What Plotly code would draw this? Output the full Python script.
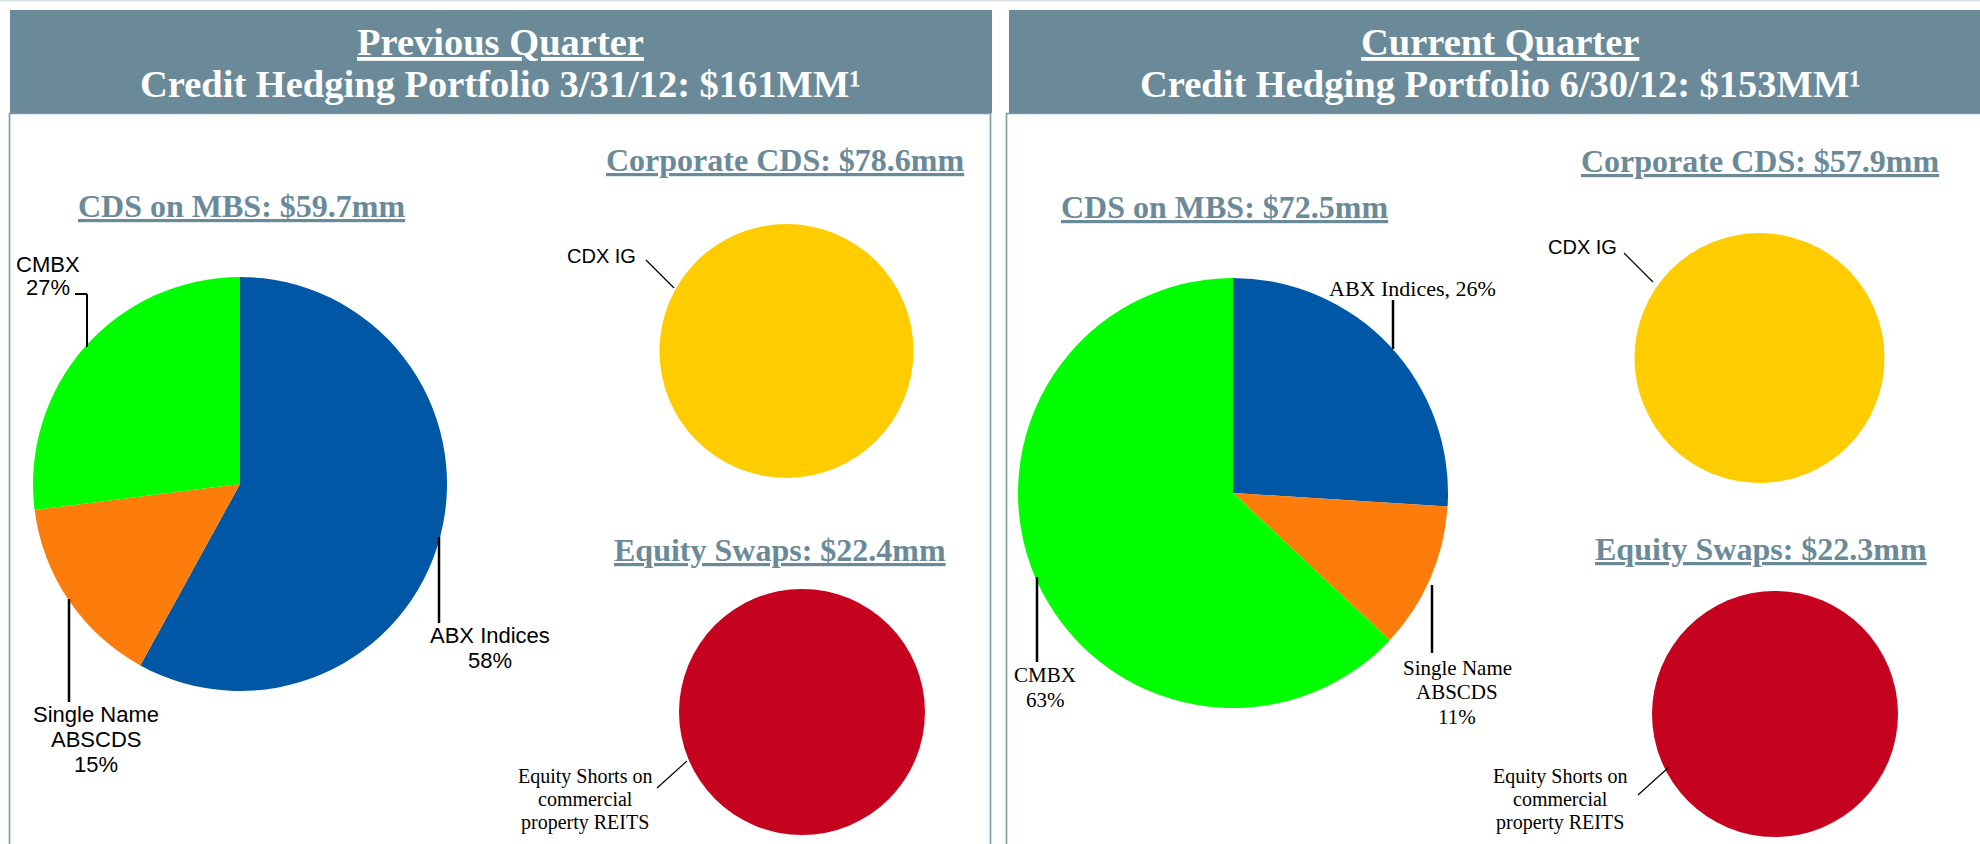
import plotly.graph_objects as go

W, H = 1980, 844

# ---------------- data ----------------
quarters = ["Previous Quarter", "Current Quarter"]
dates = ["3/31/12", "6/30/12"]
portfolio_totals = [161, 153]            # $MM

mbs_categories = ["ABX Indices", "Single Name ABSCDS", "CMBX"]
mbs_prev = [58, 15, 27]                  # % of CDS on MBS
mbs_curr = [26, 11, 63]
mbs_totals = [59.7, 72.5]                # $mm

corp_categories = ["CDX IG"]
corp_values = [78.6, 57.9]               # $mm

eq_categories = ["Equity Shorts on commercial property REITS"]
eq_values = [22.4, 22.3]                 # $mm

mbs_colors = ["#0057A6", "#FC7D0B", "#00FF00"]
corp_color = "#FFCC00"
eq_color = "#C5031F"

SLATE = "#6A8A99"
SERIF = "Liberation Serif, Times New Roman, serif"
SANS = "Liberation Sans, Arial, sans-serif"


def fx(x):
    return x / W


def fy(y):
    return 1 - y / H


def dom(cx, cy, r):
    return dict(x=[(cx - r) / W, (cx + r) / W], y=[1 - (cy + r) / H, 1 - (cy - r) / H])


fig = go.Figure()

# ---------------- pies ----------------
pie_geo = [
    [((240, 484), 207), ((786.5, 351), 127), ((802, 712), 123)],
    [((1233, 493), 215), ((1759.5, 358), 125), ((1775, 714), 123)],
]
mbs_vals = [mbs_prev, mbs_curr]

for q in range(2):
    (c1, r1), (c2, r2), (c3, r3) = pie_geo[q]
    fig.add_trace(go.Pie(
        labels=mbs_categories, values=mbs_vals[q], sort=False,
        direction="clockwise", rotation=0, textinfo="none", textposition="none",
        marker=dict(colors=mbs_colors, line=dict(width=0)),
        domain=dom(c1[0], c1[1], r1), showlegend=False, hoverinfo="label+percent",
    ))
    fig.add_trace(go.Pie(
        labels=corp_categories, values=[corp_values[q]], sort=False,
        textinfo="none", textposition="none",
        marker=dict(colors=[corp_color], line=dict(width=0)),
        domain=dom(c2[0], c2[1], r2), showlegend=False, hoverinfo="label+value",
    ))
    fig.add_trace(go.Pie(
        labels=eq_categories, values=[eq_values[q]], sort=False,
        textinfo="none", textposition="none",
        marker=dict(colors=[eq_color], line=dict(width=0)),
        domain=dom(c3[0], c3[1], r3), showlegend=False, hoverinfo="label+value",
    ))

shapes = []
annotations = []

# ---------------- frame ----------------
shapes.append(dict(type="rect", xref="paper", yref="paper", x0=0, x1=1, y0=fy(1.5), y1=1,
                   fillcolor="#D6DFE4", line=dict(width=0), layer="below"))
for (x0, x1) in [(9.5, 990.5), (1006.5, 1995)]:
    shapes.append(dict(type="rect", xref="paper", yref="paper", x0=fx(x0), x1=fx(x1),
                       y0=fy(860), y1=fy(113.5), line=dict(color="#7C99A7", width=1.6),
                       fillcolor="rgba(0,0,0,0)", layer="below"))
for (x0, x1) in [(10, 992), (1009, 1990)]:
    shapes.append(dict(type="rect", xref="paper", yref="paper", x0=fx(x0), x1=fx(x1),
                       y0=fy(113), y1=fy(10), fillcolor=SLATE, line=dict(width=0), layer="below"))


def text(t, x, baseline, size, family, color="black", anchor="center"):
    annotations.append(dict(
        text=t, x=fx(x), y=fy(baseline - 0.34 * size), xref="paper", yref="paper",
        xanchor=anchor, yanchor="middle", showarrow=False,
        font=dict(size=size, family=family, color=color),
    ))


def lines(lst, x, first_baseline, spacing, size, family):
    for i, t in enumerate(lst):
        text(t, x, first_baseline + i * spacing, size, family)


def seg(x0, y0, x1, y1, w):
    shapes.append(dict(type="line", xref="paper", yref="paper", x0=fx(x0), y0=fy(y0),
                       x1=fx(x1), y1=fy(y1), line=dict(color="black", width=w)))


# ---------------- headers ----------------
hdr_cx = [500, 1500]
for q in range(2):
    text(f"<b><u>{quarters[q]}</u></b>", hdr_cx[q], 55, 38.5, SERIF, "white")
    text(f"<b>Credit Hedging Portfolio {dates[q]}: ${portfolio_totals[q]}MM¹</b>",
         hdr_cx[q], 97, 38.5, SERIF, "white")

# ---------------- section titles ----------------
sub_pos = [
    [(241, 217), (785, 171), (780, 561)],
    [(1224, 218), (1760, 172), (1761, 560)],
]
for q in range(2):
    (a, b), (c, d), (e, f) = sub_pos[q]
    text(f"<b><u>CDS on MBS: ${mbs_totals[q]}mm</u></b>", a, b, 32, SERIF, SLATE)
    text(f"<b><u>Corporate CDS: ${corp_values[q]}mm</u></b>", c, d, 32, SERIF, SLATE)
    text(f"<b><u>Equity Swaps: ${eq_values[q]}mm</u></b>", e, f, 32, SERIF, SLATE)

# ---------------- slice labels : previous quarter ----------------
lines([mbs_categories[0], f"{mbs_prev[0]}%"], 490, 643, 25, 22, SANS)
lines(["Single Name", "ABSCDS", f"{mbs_prev[1]}%"], 96, 722, 25, 22, SANS)
lines([mbs_categories[2], f"{mbs_prev[2]}%"], 48, 272, 23, 22, SANS)
seg(439, 537, 439, 623, 2.5)
seg(69, 599, 69, 702, 2.5)
seg(75, 294, 87, 294, 2)
seg(87, 294, 87, 347, 2)

text(corp_categories[0], 601.5, 263, 20, SANS)
seg(646, 260, 674, 288, 1.2)
lines(["Equity Shorts on", "commercial", "property REITS"], 585, 783, 23, 20, SERIF)
seg(657, 788, 687, 761, 1.2)

# ---------------- slice labels : current quarter ----------------
text(f"{mbs_categories[0]}, {mbs_curr[0]}%", 1412, 296, 22, SERIF)
seg(1393, 300, 1393, 349, 2.5)
lines(["Single Name", "ABSCDS", f"{mbs_curr[1]}%"], 1457, 675, 24.5, 21, SERIF)
seg(1432, 585, 1432, 653, 2.5)
lines([mbs_categories[2], f"{mbs_curr[2]}%"], 1045, 682, 25, 21, SERIF)
seg(1037, 577, 1037, 662, 2.5)

text(corp_categories[0], 1582, 254, 20, SANS)
seg(1624, 253, 1653, 282, 1.2)
lines(["Equity Shorts on", "commercial", "property REITS"], 1560, 783, 23, 20, SERIF)
seg(1638, 795, 1669, 767, 1.2)

fig.update_layout(
    width=W, height=H, margin=dict(l=0, r=0, t=0, b=0),
    paper_bgcolor="white", plot_bgcolor="white",
    shapes=shapes, annotations=annotations, showlegend=False,
)

fig.write_html(
    "out.html",
    config={"displayModeBar": False},
    post_script="document.body.style.margin='0';document.body.style.overflow='hidden';",
)
